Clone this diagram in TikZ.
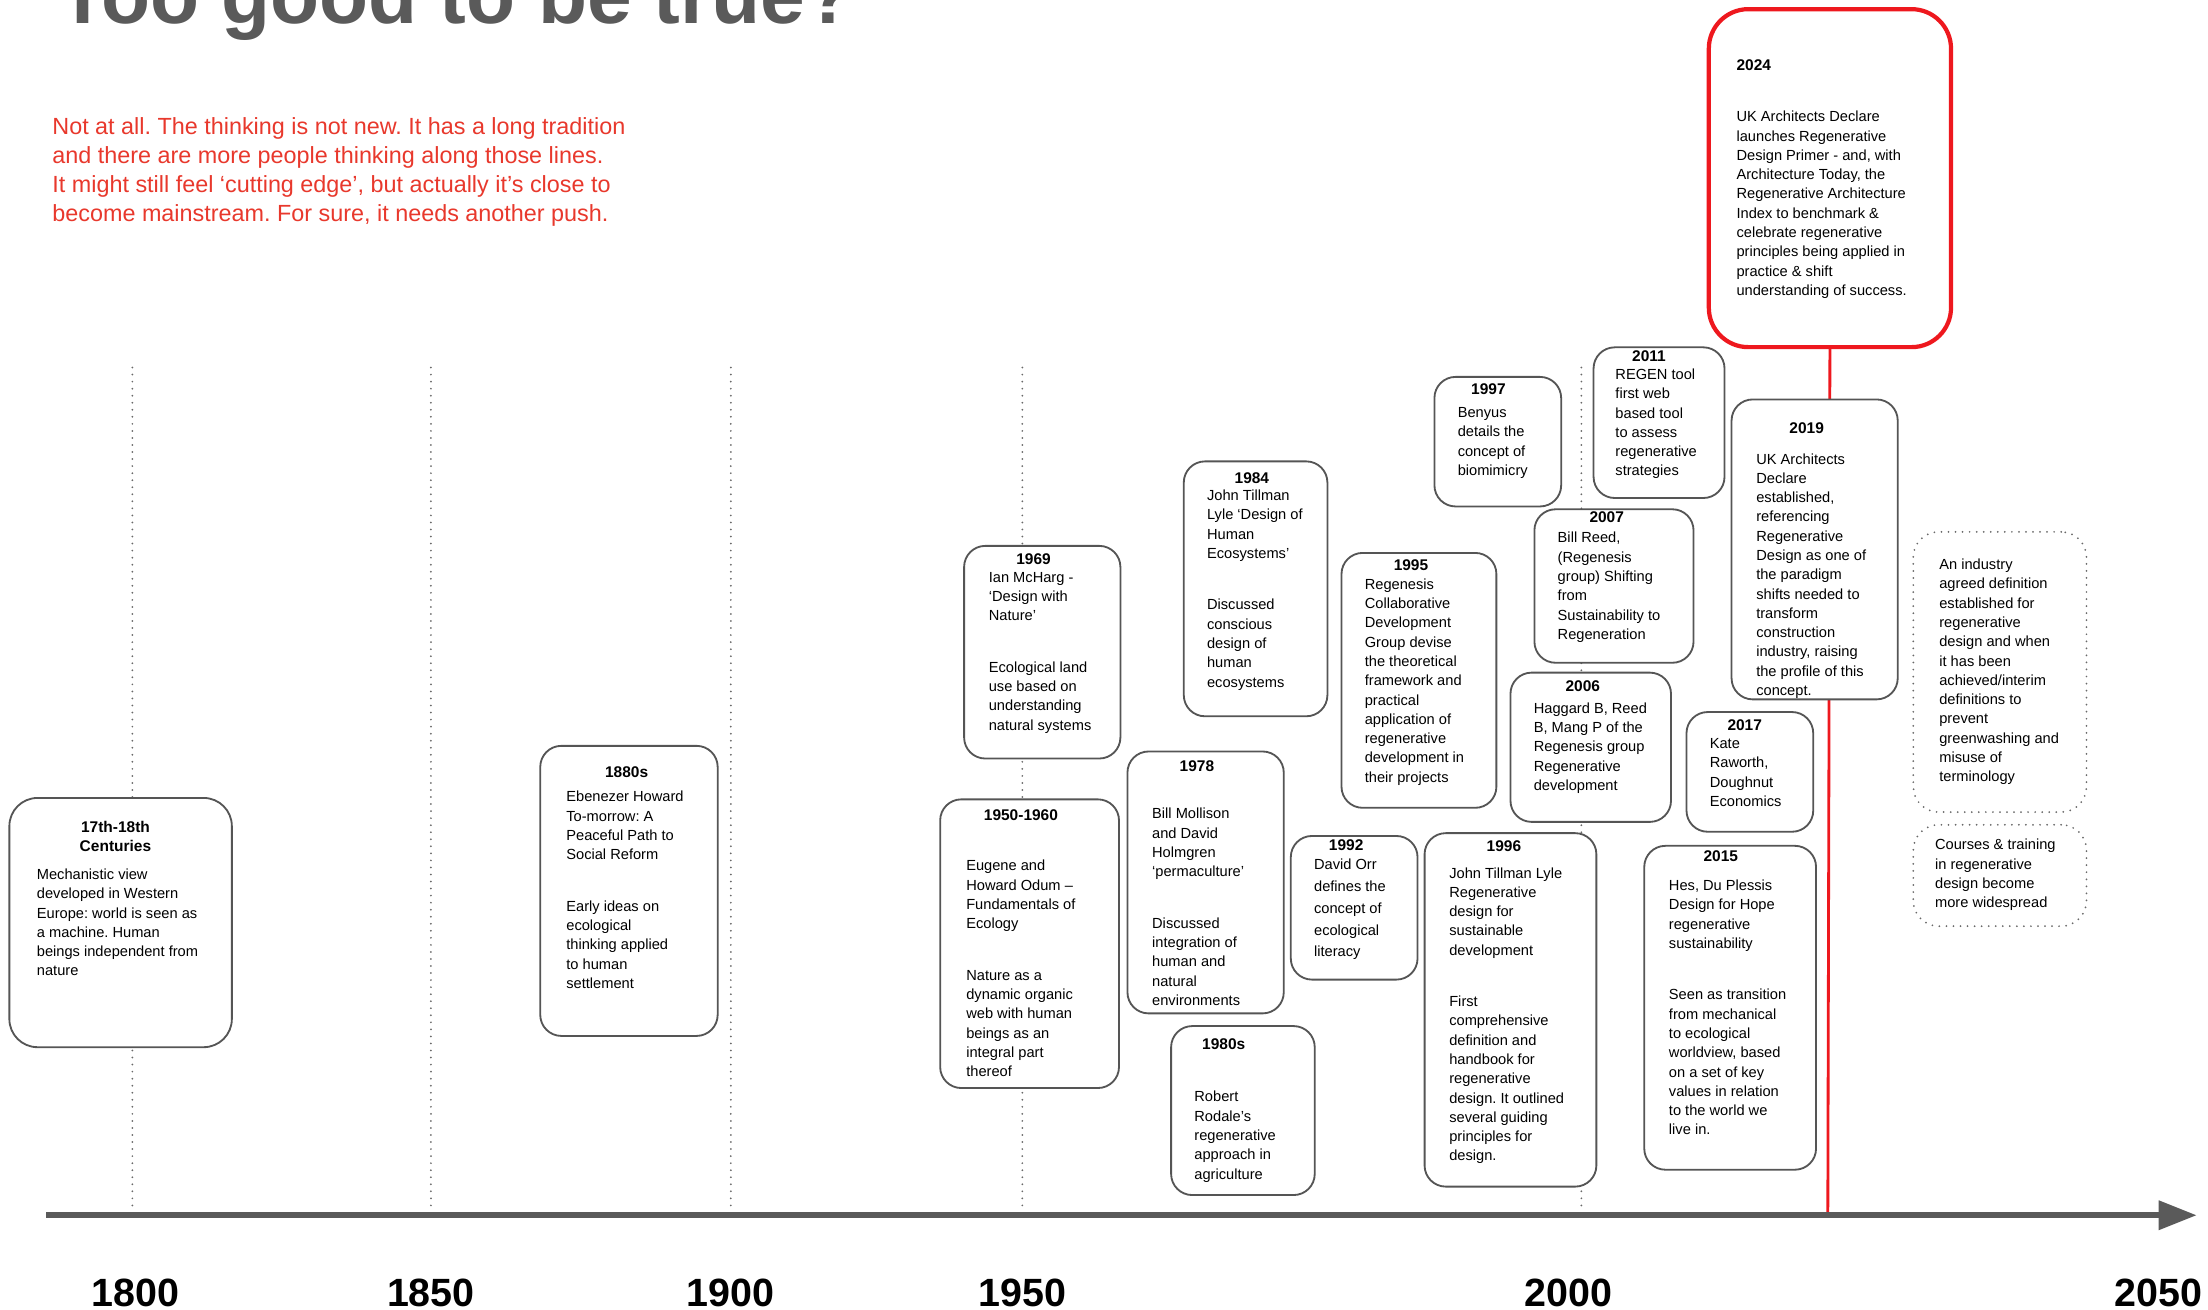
\documentclass[tikz,border=0pt]{standalone}
\usepackage{fontspec}
\setmainfont{Liberation Sans}
\usetikzlibrary{arrows.meta}
\definecolor{axgray}{RGB}{90,90,90}
\definecolor{boxgray}{RGB}{85,85,85}
\definecolor{dotgray}{RGB}{105,105,105}
\definecolor{redtxt}{RGB}{232,56,44}
\definecolor{redline}{RGB}{238,24,30}
\newcommand\txtlines[1]{\begin{tabular}[t]{@{}l@{}}#1\end{tabular}}
\newcommand\ctrlines[1]{\begin{tabular}[t]{@{}c@{}}#1\end{tabular}}
\newcommand\pgap{\\[22.8pt]}
\frenchspacing
\begin{document}
\frenchspacing
\begin{tikzpicture}[x=1pt,y=-1pt,
  evbox/.style={draw=boxgray, line width=1.3pt, rounded corners=15pt, fill=white,
    inner sep=0pt, anchor=north west},
  dotbox/.style={draw=dotgray, line width=1.4pt, dash pattern=on 0pt off 5pt, line cap=round,
    rounded corners=18pt, inner sep=0pt, anchor=north west},
  redbox/.style={draw=redline, line width=3pt, rounded corners=28pt, fill=white,
    inner sep=0pt, anchor=north west},
  yr/.style={font=\fontsize{11}{13.5}\selectfont\bfseries, inner sep=0pt, anchor=base},
  txt/.style={font=\fontsize{10.4}{13.7}\selectfont, inner sep=0pt, anchor=base west},
  yrline/.style={draw=dotgray, line width=1.4pt, dash pattern=on 0pt off 5pt, line cap=round},
  axlabel/.style={font=\fontsize{28}{30}\selectfont\bfseries, inner sep=0pt, anchor=base}
]
\useasboundingbox (0,0) rectangle (1568,930);
\clip (0,0) rectangle (1568,930);

% title and intro
\node[anchor=base west, inner sep=0pt, font=\fontsize{57}{60}\selectfont\bfseries, text=axgray]
  (title) at (41,17) {Too good to be true?};
\node[anchor=base west, inner sep=0pt, font=\fontsize{16.6}{20.7}\selectfont, text=redtxt]
  (intro) at (37,95.5) {\txtlines{Not at all. The thinking is not new. It has a long tradition\\
  and there are more people thinking along those lines.\\
  It might still feel ‘cutting edge’, but actually it’s close to\\
  become mainstream. For sure, it needs another push.}};

% dotted year lines
\foreach \nm/\xx in {a/94,b/306,c/519,d/726,e/1123}{
  \coordinate (top\nm) at (\xx,261);
  \coordinate (bot\nm) at (\xx,860);
  \draw[yrline] (top\nm) -- (bot\nm);
}

% red line from 2024 box down to the axis
\coordinate (redend) at (1298,863);

% boxes
\node[redbox, minimum width=172pt, minimum height=240pt] (b2024) at (1212,5) {};
\draw[redline, line width=2pt] (b2024.south) -- (redend);

\node[evbox, minimum width=158pt, minimum height=177pt, rounded corners=20pt] (b17) at (6,566) {};
\node[yr] (y17) at (82,591) {\ctrlines{17th-18th\\Centuries}};
\node[txt] (t17) at (26,624.5) {\txtlines{Mechanistic view\\developed in Western\\Europe: world is seen as\\a machine. Human\\beings independent from\\nature}};

\node[evbox, minimum width=126pt, minimum height=206pt] (b1880) at (383,529) {};
\node[yr] (y1880) at (445,552) {1880s};
\node[txt] (t1880) at (402,569.5) {\txtlines{Ebenezer Howard\\To-morrow: A\\Peaceful Path to\\Social Reform\pgap Early ideas on\\ecological\\thinking applied\\to human\\settlement}};

\node[evbox, minimum width=111pt, minimum height=151pt] (b1969) at (684,387) {};
\node[yr] (y1969) at (734,401) {1969};
\node[txt] (t1969) at (702,413.5) {\txtlines{Ian McHarg -\\‘Design with\\Nature’\pgap Ecological land\\use based on\\understanding\\natural systems}};

\node[evbox, minimum width=127pt, minimum height=205pt] (b1950) at (667,567) {};
\node[yr] (y1950) at (725,583) {1950-1960};
\node[txt] (t1950) at (686,618.5) {\txtlines{Eugene and\\Howard Odum –\\Fundamentals of\\Ecology\pgap Nature as a\\dynamic organic\\web with human\\beings as an\\integral part\\thereof}};

\node[evbox, minimum width=102pt, minimum height=181pt] (b1984) at (840,327) {};
\node[yr] (y1984) at (889,343) {1984};
\node[txt] (t1984) at (857,355.5) {\txtlines{John Tillman\\Lyle ‘Design of\\Human\\Ecosystems’\pgap Discussed\\conscious\\design of\\human\\ecosystems}};

\node[evbox, minimum width=111pt, minimum height=186pt] (b1978) at (800,533) {};
\node[yr] (y1978) at (850,548) {1978};
\node[txt] (t1978) at (818,581.5) {\txtlines{Bill Mollison\\and David\\Holmgren\\‘permaculture’\pgap Discussed\\integration of\\human and\\natural\\environments}};

\node[evbox, minimum width=102pt, minimum height=120pt] (b1980) at (831,728) {};
\node[yr] (y1980) at (869,745) {1980s};
\node[txt] (t1980) at (848,782.5) {\txtlines{Robert\\Rodale’s\\regenerative\\approach in\\agriculture}};

\node[evbox, minimum width=110pt, minimum height=181pt] (b1995) at (952,392) {};
\node[yr] (y1995) at (1002,405) {1995};
\node[txt] (t1995) at (969,418.5) {\txtlines{Regenesis\\Collaborative\\Development\\Group devise\\the theoretical\\framework and\\practical\\application of\\regenerative\\development in\\their projects}};

\node[evbox, minimum width=90pt, minimum height=102pt] (b1992) at (916,593) {};
\node[yr] (y1992) at (956,604) {1992};
\node[txt, font=\fontsize{10.4}{15.5}\selectfont] (t1992) at (933,617.5) {\txtlines{David Orr\\defines the\\concept of\\ecological\\literacy}};

\node[evbox, minimum width=122pt, minimum height=251pt] (b1996) at (1011,591) {};
\node[yr] (y1996) at (1068,605) {1996};
\node[txt] (t1996) at (1029,623.5) {\txtlines{John Tillman Lyle\\Regenerative\\design for\\sustainable\\development\pgap First\\comprehensive\\definition and\\handbook for\\regenerative\\design. It outlined\\several guiding\\principles for\\design.}};

\node[evbox, minimum width=90pt, minimum height=92pt] (b1997) at (1018,267) {};
\node[yr] (y1997) at (1057,280) {1997};
\node[txt] (t1997) at (1035,296.5) {\txtlines{Benyus\\details the\\concept of\\biomimicry}};

\node[evbox, minimum width=93pt, minimum height=107pt] (b2011) at (1131,246) {};
\node[yr] (y2011) at (1171,257) {2011};
\node[txt] (t2011) at (1147,269.5) {\txtlines{REGEN tool\\first web\\based tool\\to assess\\regenerative\\strategies}};

\node[evbox, minimum width=113pt, minimum height=109pt] (b2007) at (1089,361) {};
\node[yr] (y2007) at (1141,371) {2007};
\node[txt] (t2007) at (1106,385.5) {\txtlines{Bill Reed,\\(Regenesis\\group) Shifting\\from\\Sustainability to\\Regeneration}};

\node[evbox, minimum width=114pt, minimum height=106pt] (b2006) at (1072,477) {};
\node[yr] (y2006) at (1124,491) {2006};
\node[txt] (t2006) at (1089,506.5) {\txtlines{Haggard B, Reed\\B, Mang P of the\\Regenesis group\\Regenerative\\development}};

\node[evbox, minimum width=90pt, minimum height=85pt] (b2017) at (1197,505) {};
\node[yr] (y2017) at (1239,519) {2017};
\node[txt] (t2017) at (1214,531.5) {\txtlines{Kate\\Raworth,\\Doughnut\\Economics}};

\node[evbox, minimum width=122pt, minimum height=230pt] (b2015) at (1167,600) {};
\node[yr] (y2015) at (1222,612) {2015};
\node[txt] (t2015) at (1185,632.5) {\txtlines{Hes, Du Plessis\\Design for Hope\\regenerative\\sustainability\pgap Seen as transition\\from mechanical\\to ecological\\worldview, based\\on a set of key\\values in relation\\to the world we\\live in.}};

\node[evbox, minimum width=118pt, minimum height=213pt] (b2019) at (1229,283) {};
\node[yr] (y2019) at (1283,308) {2019};
\node[txt] (t2019) at (1247,329.5) {\txtlines{UK Architects\\Declare\\established,\\referencing\\Regenerative\\Design as one of\\the paradigm\\shifts needed to\\transform\\construction\\industry, raising\\the profile of this\\concept.}};

\node[yr, anchor=base west] (y2024) at (1233,50) {2024};
\node[txt] (t2024) at (1233,86.5) {\txtlines{UK Architects Declare\\launches Regenerative\\Design Primer - and, with\\Architecture Today, the\\Regenerative Architecture\\Index to benchmark \&\\celebrate regenerative\\principles being applied in\\practice \& shift\\understanding of success.}};

\node[dotbox, minimum width=123pt, minimum height=199pt] (d1) at (1358,377) {};
\node[txt] (td1) at (1377,404.5) {\txtlines{An industry\\agreed definition\\established for\\regenerative\\design and when\\it has been\\achieved/interim\\definitions to\\prevent\\greenwashing and\\misuse of\\terminology}};

\node[dotbox, minimum width=123pt, minimum height=72pt] (d2) at (1358,585) {};
\node[txt] (td2) at (1374,603.5) {\txtlines{Courses \& training\\in regenerative\\design become\\more widespread}};

% axis
\coordinate (axL) at (33,863);
\coordinate (axR) at (1560,863);
\draw[axgray, line width=4.3pt, -{Triangle[length=27pt,width=20pt]}] (axL) -- (axR);

\node[axlabel] (l1800) at (96,927.5) {1800};
\node[axlabel] (l1850) at (306,927.5) {1850};
\node[axlabel] (l1900) at (519,927.5) {1900};
\node[axlabel] (l1950) at (726,927.5) {1950};
\node[axlabel] (l2000) at (1114,927.5) {2000};
\node[axlabel] (l2050) at (1533,927.5) {2050};
\end{tikzpicture}
\end{document}
